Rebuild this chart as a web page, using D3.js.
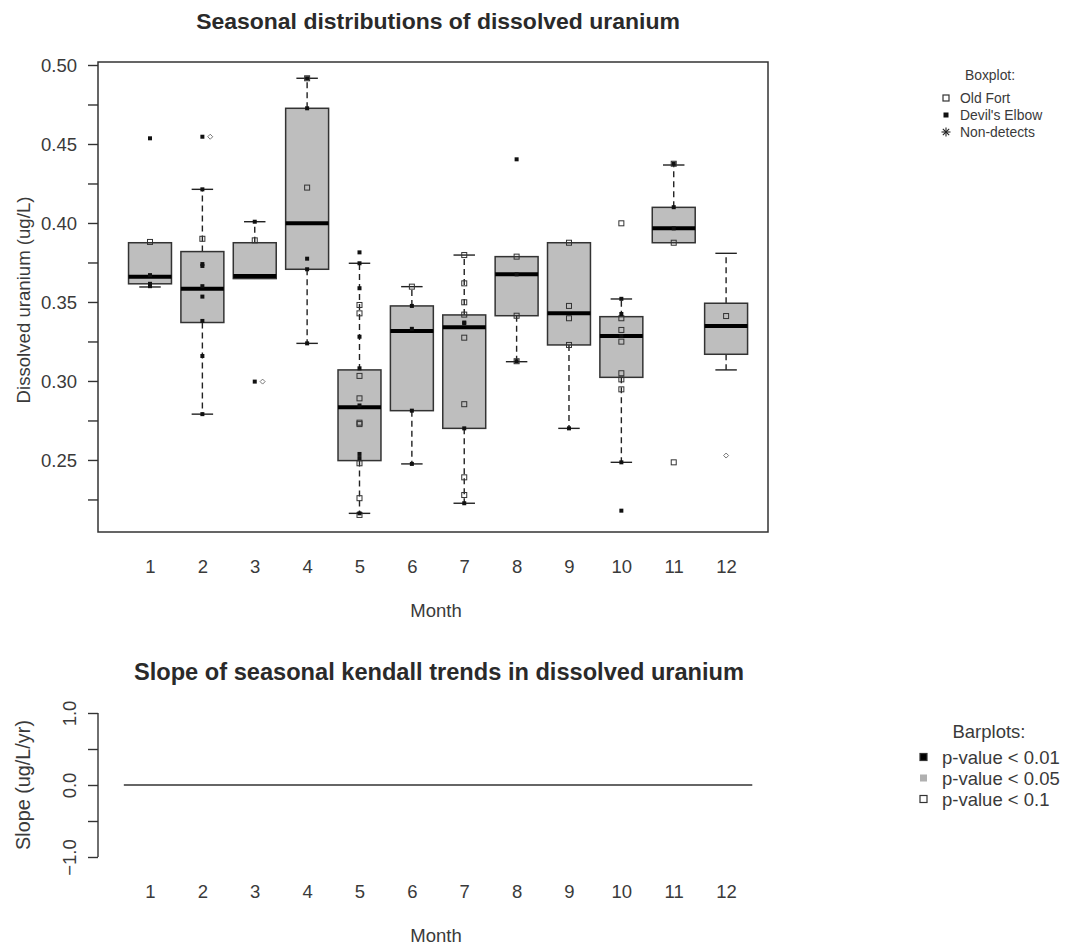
<!DOCTYPE html>
<html>
<head>
<meta charset="utf-8">
<script src="https://cdn.jsdelivr.net/npm/d3@7"></script>
<style>
  body { margin: 0; background: #fff; }
  svg { display: block; font-family: "Liberation Sans", Arial, sans-serif; }
</style>
</head>
<body>
<svg id="chart" width="1073" height="946"></svg>
<script>
// ---------------- DATA ----------------
const months = [1, 2, 3, 4, 5, 6, 7, 8, 9, 10, 11, 12];
const whiskerLow  = [0.3595, 0.279, 0.3648, 0.3238, 0.2162, 0.2475, 0.2226, 0.3122, 0.270, 0.2485, 0.3875, 0.307];
const q1          = [0.3615, 0.337, 0.3648, 0.3707, 0.2496, 0.2812, 0.270, 0.3413, 0.3228, 0.3023, 0.3875, 0.3169];
const medianVals  = [0.366, 0.3584, 0.3665, 0.3998, 0.2833, 0.3316, 0.334, 0.3675, 0.3428, 0.3285, 0.3966, 0.3348];
const q3          = [0.3875, 0.3819, 0.3875, 0.4726, 0.307, 0.3475, 0.3418, 0.3787, 0.3875, 0.3407, 0.4099, 0.3492];
const whiskerHigh = [0.3875, 0.4213, 0.4008, 0.4916, 0.3745, 0.3597, 0.3797, 0.3787, 0.3875, 0.3519, 0.4367, 0.3808];

// Old Fort observations (open squares): [month, value]
const oldFort = [
  [1, 0.388],
  [2, 0.390],
  [3, 0.389],
  [4, 0.4224], [4, 0.4916],
  [5, 0.3481], [5, 0.3428], [5, 0.3032], [5, 0.289], [5, 0.2736], [5, 0.2727], [5, 0.2479], [5, 0.2258], [5, 0.2152],
  [6, 0.3597],
  [7, 0.3797], [7, 0.3618], [7, 0.3498], [7, 0.342], [7, 0.3274], [7, 0.2853], [7, 0.239], [7, 0.2278],
  [8, 0.3787], [8, 0.3413], [8, 0.3125],
  [9, 0.3875], [9, 0.3475], [9, 0.3397], [9, 0.3228],
  [10, 0.3998], [10, 0.3397], [10, 0.3323], [10, 0.3249], [10, 0.3049], [10, 0.301], [10, 0.2947],
  [11, 0.4375], [11, 0.3875], [11, 0.2485],
  [12, 0.3411]
];
// Devil's Elbow observations (filled squares): [month, value]
const devilsElbow = [
  [1, 0.4536], [1, 0.367], [1, 0.3615], [1, 0.360],
  [2, 0.4546], [2, 0.4213], [2, 0.374], [2, 0.3728], [2, 0.360], [2, 0.3534], [2, 0.338], [2, 0.3158], [2, 0.279],
  [3, 0.4008], [3, 0.2996],
  [4, 0.4916], [4, 0.4726], [4, 0.3774], [4, 0.3707], [4, 0.3238],
  [5, 0.3814], [5, 0.3745], [5, 0.3587], [5, 0.328], [5, 0.308], [5, 0.2845], [5, 0.2538], [5, 0.2512], [5, 0.2162],
  [6, 0.3475], [6, 0.333], [6, 0.2812], [6, 0.2475],
  [7, 0.337], [7, 0.3365], [7, 0.270], [7, 0.2226],
  [8, 0.4403], [8, 0.3675], [8, 0.3125],
  [9, 0.270],
  [10, 0.352], [10, 0.3424], [10, 0.3285], [10, 0.2485], [10, 0.2179],
  [11, 0.4375], [11, 0.41], [11, 0.3966]
];
// small open diamond markers beside some points: [month position, value]
const otherPoints = [[2.15, 0.4546], [3.15, 0.2996], [12, 0.2528]];

// Seasonal Kendall slopes (all zero -> no visible bars)
const slopes = [0, 0, 0, 0, 0, 0, 0, 0, 0, 0, 0, 0];

const title1 = "Seasonal distributions of dissolved uranium";
const title2 = "Slope of seasonal kendall trends in dissolved uranium";
const yLabel1 = "Dissolved uranium (ug/L)";
const yLabel2 = "Slope  (ug/L/yr)";
const xLabel = "Month";
const yTicks1 = [0.225, 0.25, 0.275, 0.30, 0.325, 0.35, 0.375, 0.40, 0.425, 0.45, 0.475, 0.50];
const yTickLabels1 = [0.25, 0.30, 0.35, 0.40, 0.45, 0.50];
const yTicks2 = [-1, -0.5, 0, 0.5, 1];
const yTickLabels2 = [-1, 0, 1];
const legend1Title = "Boxplot:";
const legend1Items = ["Old Fort", "Devil's Elbow", "Non-detects"];
const legend2Title = "Barplots:";
const legend2Items = ["p-value < 0.01", "p-value < 0.05", "p-value < 0.1"];
const legend2Colors = ["#000000", "#b0b0b0", "#ffffff"];

// ---------------- LAYOUT ----------------
const svg = d3.select("#chart");
const TXT = "#3a3a3a";
const FONT = "'Liberation Sans', Arial, sans-serif";
const FS = 18.5;          // base text size
const P = {left: 98, right: 768, top: 62, bottom: 532};
const x = d3.scaleLinear().domain([0.007, 12.8]).range([P.left, P.right]);
const y1 = d3.scaleLinear().domain([0.2044, 0.5019]).range([P.bottom, P.top]);
const y2 = d3.scaleLinear().domain([-1, 1]).range([857, 713]);
const boxW = (x(2) - x(1)) * 0.82;

function fit(sel, len) {
  const fs = parseFloat(sel.attr("font-size"));
  const w = sel.node().getComputedTextLength();
  if (w > 0) sel.attr("font-size", (fs * len / w).toFixed(2));
  return sel;
}

// titles
fit(svg.append("text").attr("x", 438).attr("y", 29).attr("text-anchor", "middle")
  .attr("font-family", FONT).attr("font-size", 22).attr("font-weight", "bold").attr("fill", "#2a2a2a").text(title1), 484);
fit(svg.append("text").attr("x", 439).attr("y", 680).attr("text-anchor", "middle")
  .attr("font-family", FONT).attr("font-size", 22).attr("font-weight", "bold").attr("fill", "#2a2a2a").text(title2), 610);

// ---- top plot ----
const g1 = svg.append("g");
const stats = months.map((m, i) => ({m, lo: whiskerLow[i], q1: q1[i], med: medianVals[i], q3: q3[i], hi: whiskerHigh[i]}));
const bx = g1.selectAll(".bx").data(stats).enter().append("g");
bx.append("line").attr("x1", d => x(d.m)).attr("x2", d => x(d.m))
  .attr("y1", d => y1(d.q3)).attr("y2", d => y1(d.hi))
  .attr("stroke", "#222").attr("stroke-width", 1.4).attr("stroke-dasharray", "6,4");
bx.append("line").attr("x1", d => x(d.m)).attr("x2", d => x(d.m))
  .attr("y1", d => y1(d.q1)).attr("y2", d => y1(d.lo))
  .attr("stroke", "#222").attr("stroke-width", 1.4).attr("stroke-dasharray", "6,4");
bx.filter(d => d.hi > d.q3).append("line").attr("x1", d => x(d.m) - boxW / 4).attr("x2", d => x(d.m) + boxW / 4)
  .attr("y1", d => y1(d.hi)).attr("y2", d => y1(d.hi)).attr("stroke", "#222").attr("stroke-width", 1.4);
bx.filter(d => d.lo < d.q1).append("line").attr("x1", d => x(d.m) - boxW / 4).attr("x2", d => x(d.m) + boxW / 4)
  .attr("y1", d => y1(d.lo)).attr("y2", d => y1(d.lo)).attr("stroke", "#222").attr("stroke-width", 1.4);
bx.append("rect").attr("x", d => x(d.m) - boxW / 2).attr("width", boxW)
  .attr("y", d => y1(d.q3)).attr("height", d => y1(d.q1) - y1(d.q3))
  .attr("fill", "#bebebe").attr("stroke", "#333").attr("stroke-width", 1.5);
bx.append("line").attr("x1", d => x(d.m) - boxW / 2).attr("x2", d => x(d.m) + boxW / 2)
  .attr("y1", d => y1(d.med)).attr("y2", d => y1(d.med)).attr("stroke", "#000").attr("stroke-width", 4);

g1.selectAll(".of").data(oldFort).enter().append("rect")
  .attr("x", d => x(d[0]) - 2.5).attr("y", d => y1(d[1]) - 2.5).attr("width", 5).attr("height", 5)
  .attr("fill", "none").attr("stroke", "#333").attr("stroke-width", 1);
g1.selectAll(".de").data(devilsElbow).enter().append("rect")
  .attr("x", d => x(d[0]) - 2).attr("y", d => y1(d[1]) - 2).attr("width", 4).attr("height", 4)
  .attr("fill", "#111");
g1.selectAll(".ot").data(otherPoints).enter().append("path")
  .attr("d", d => { const cx = x(d[0]), cy = y1(d[1]); return `M${cx},${cy - 2.5}L${cx + 2.5},${cy}L${cx},${cy + 2.5}L${cx - 2.5},${cy}Z`; })
  .attr("fill", "none").attr("stroke", "#555").attr("stroke-width", 0.8);

g1.append("rect").attr("x", P.left).attr("y", P.top)
  .attr("width", P.right - P.left).attr("height", P.bottom - P.top)
  .attr("fill", "none").attr("stroke", "#333").attr("stroke-width", 1.5);

const ax1 = d3.axisLeft(y1).tickValues(yTicks1).tickSize(10)
  .tickFormat(v => yTickLabels1.some(t => Math.abs(t - v) < 1e-9) ? d3.format(".2f")(v) : "");
const a1 = svg.append("g").attr("transform", `translate(${P.left},0)`).call(ax1);
a1.select(".domain").remove();
a1.selectAll(".tick line").attr("stroke", "#333").attr("stroke-width", 1.4);
a1.selectAll(".tick text").attr("font-size", FS).attr("fill", TXT).attr("font-family", FONT)
  .attr("x", -21).attr("dy", "0.36em");

const ax1x = d3.axisBottom(x).tickValues(months).tickSize(0).tickFormat(d3.format("d"));
const a1x = svg.append("g").attr("transform", `translate(0,${P.bottom})`).call(ax1x);
a1x.select(".domain").remove();
a1x.selectAll(".tick text").attr("font-size", FS).attr("fill", TXT).attr("font-family", FONT)
  .attr("y", 41).attr("dy", 0);

svg.append("text").attr("x", 436).attr("y", 617).attr("text-anchor", "middle")
  .attr("font-family", FONT).attr("font-size", FS).attr("fill", TXT).text(xLabel);
fit(svg.append("text").attr("transform", "translate(30,300) rotate(-90)").attr("text-anchor", "middle")
  .attr("font-family", FONT).attr("font-size", FS).attr("fill", TXT).text(yLabel1), 207);

// ---- bottom plot ----
const g2 = svg.append("g");
const barW = boxW;
g2.selectAll(".bar").data(months.map((m, i) => ({m, s: slopes[i]}))).enter().append("rect")
  .attr("x", d => x(d.m) - barW / 2).attr("width", barW)
  .attr("y", d => Math.min(y2(0), y2(d.s))).attr("height", d => Math.abs(y2(d.s) - y2(0)))
  .attr("fill", "#000");
g2.append("line").attr("x1", x(0.5)).attr("x2", x(12.5)).attr("y1", y2(0)).attr("y2", y2(0))
  .attr("stroke", "#333").attr("stroke-width", 1.6);

const ax2 = d3.axisLeft(y2).tickValues(yTicks2).tickSize(10).tickFormat("");
const a2 = svg.append("g").attr("transform", `translate(${P.left},0)`).call(ax2);
a2.select(".domain").attr("stroke", "#333").attr("stroke-width", 1.4).attr("d", `M0,${y2(1)}V${y2(-1)}`);
a2.selectAll(".tick line").attr("stroke", "#333").attr("stroke-width", 1.4);
a2.selectAll(".tick").filter(v => yTickLabels2.includes(v)).append("text")
  .attr("transform", "translate(-22,0) rotate(-90)").attr("text-anchor", "middle")
  .attr("font-size", FS).attr("fill", TXT).attr("font-family", FONT)
  .text(v => d3.format(".1f")(v));

const ax2x = d3.axisBottom(x).tickValues(months).tickSize(0).tickFormat(d3.format("d"));
const a2x = svg.append("g").attr("transform", `translate(0,857)`).call(ax2x);
a2x.select(".domain").remove();
a2x.selectAll(".tick text").attr("font-size", FS).attr("fill", TXT).attr("font-family", FONT)
  .attr("y", 41).attr("dy", 0);

svg.append("text").attr("x", 436).attr("y", 942).attr("text-anchor", "middle")
  .attr("font-family", FONT).attr("font-size", FS).attr("fill", TXT).text(xLabel);
fit(svg.append("text").attr("transform", "translate(30,785) rotate(-90)").attr("text-anchor", "middle")
  .attr("font-family", FONT).attr("font-size", FS).attr("fill", TXT).text(yLabel2), 130);

// ---- legend 1 ----
const FS1 = 13.9;
const L1 = svg.append("g").attr("fill", TXT).attr("font-family", FONT).attr("font-size", FS1);
L1.append("text").attr("x", 990).attr("y", 80).attr("text-anchor", "middle").text(legend1Title);
const l1y = [98, 115, 132];
legend1Items.forEach((t, i) => {
  L1.append("text").attr("x", 960).attr("y", l1y[i] + 5).text(t);
});
L1.append("rect").attr("x", 943).attr("y", l1y[0] - 3).attr("width", 6).attr("height", 6)
  .attr("fill", "none").attr("stroke", "#333").attr("stroke-width", 1.2);
L1.append("rect").attr("x", 943.5).attr("y", l1y[1] - 2.5).attr("width", 5).attr("height", 5).attr("fill", "#111");
[0, 45, 90, 135].forEach(a => {
  const r = 4.5, rad = a * Math.PI / 180;
  L1.append("line").attr("x1", 946 - r * Math.cos(rad)).attr("x2", 946 + r * Math.cos(rad))
    .attr("y1", l1y[2] - r * Math.sin(rad)).attr("y2", l1y[2] + r * Math.sin(rad))
    .attr("stroke", "#222").attr("stroke-width", 1.1);
});

// ---- legend 2 ----
const L2 = svg.append("g").attr("fill", TXT).attr("font-family", FONT).attr("font-size", FS);
L2.append("text").attr("x", 989).attr("y", 738).attr("text-anchor", "middle").text(legend2Title);
const l2y = [757, 778, 799];
legend2Items.forEach((t, i) => {
  L2.append("text").attr("x", 942).attr("y", l2y[i] + 6.5).text(t);
  L2.append("rect").attr("x", 920).attr("y", l2y[i] - 3.5).attr("width", 7).attr("height", 7)
    .attr("fill", legend2Colors[i]).attr("stroke", i === 1 ? "none" : "#333").attr("stroke-width", 1.2);
});
</script>
</body>
</html>
